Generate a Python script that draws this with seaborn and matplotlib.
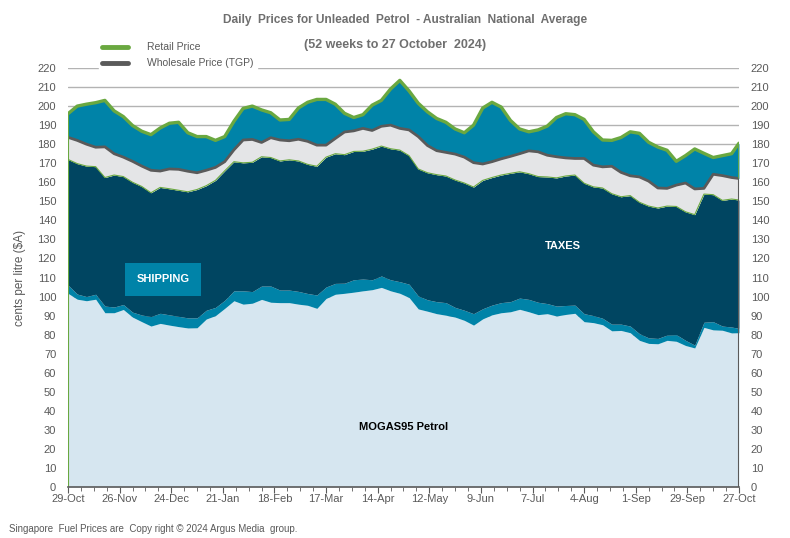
import pandas as pd
import numpy as np
import seaborn as sns
import matplotlib.pyplot as plt
from matplotlib.lines import Line2D
import matplotlib.dates as mdates


# day offsets from 29-Oct-2023 (every 5 days, plus the last day)
day_offsets = list(range(0, 361, 5)) + [364]

retail = [196, 200, 201, 201.8, 203, 197.5, 194.5, 189.8, 186.8, 185,
          188.5, 191, 191.5, 186, 184, 184, 182, 184, 192, 198.8,
          200, 198, 196.5, 192.7, 193, 199, 202, 203.5, 203.5, 201,
          196.2, 194, 195.5, 200.5, 203, 209, 213.5, 208, 201.5, 197,
          193.5, 191.5, 188, 186, 190, 199, 202, 199.5, 192.5, 188,
          186.5, 187.5, 189.5, 194, 196, 195.5, 193, 186.5, 182.2, 182,
          183.5, 186.5, 185.7, 181, 178.5, 176.8, 171, 174, 177.5, 175.2,
          173, 174, 175, 180.5]

wholesale = [183.6, 182, 180, 178.4, 178.6, 175, 173.2, 171, 168.5, 166.3,
             165.9, 167, 166.8, 165.8, 165, 166.3, 167.8, 170.8, 177, 182.2,
             182.5, 180.9, 183.4, 182.2, 181.8, 182.6, 181.5, 179.5, 179.5, 183,
             186.4, 187, 188.3, 187.2, 189.4, 190, 188.3, 187.5, 184, 179.3,
             176.6, 175.7, 174.8, 173.2, 170.3, 169.6, 170.8, 172.3, 173.6, 175,
             176.5, 176, 174.2, 173.4, 172.8, 172.5, 172.5, 169, 168.1, 168.4,
             165.2, 163.4, 162.8, 160.6, 157, 156.8, 158.5, 159.6, 156.5, 156.8,
             164.2, 163.5, 162.5, 162]

taxes_top = [172, 169.8, 168.5, 168.2, 162.5, 163.8, 163, 160, 157.8, 154.5,
             157.3, 156.6, 155.8, 155, 156.2, 158.2, 161, 166, 170.8, 170.2,
             170.5, 173.4, 173, 171.2, 171.8, 171.2, 169.4, 168.4, 173.2, 175,
             174.5, 176.2, 176.3, 177.4, 179, 177.6, 176.9, 174, 167, 165,
             164, 163.3, 161.2, 159.6, 157.5, 161, 162.5, 163.8, 164.7, 165.5,
             164.5, 163, 162.8, 162.3, 163.3, 163.8, 159.5, 157.6, 157, 154,
             152.4, 153, 149.5, 147.5, 146.5, 147.5, 147.3, 144.5, 143, 153.8,
             153.5, 150.5, 151.2, 150.7]

shipping_top = [106, 101.3, 100, 101.2, 95, 94.5, 95.8, 91.8, 90.3, 89.5,
                91.2, 90.4, 89.6, 88.8, 88.8, 92.8, 94.3, 98, 103, 103,
                102.6, 105.5, 105.5, 103.4, 103.4, 102.7, 101.6, 100.8, 105, 106.9,
                107, 108.8, 109.2, 108.8, 110.8, 108.8, 107.8, 106.5, 100.3, 98.3,
                97.3, 96.8, 94.3, 92.8, 91, 93.6, 95.5, 96.8, 97.3, 99.2,
                98.5, 97, 96.3, 95, 95.3, 95.5, 91, 90, 88.6, 85.5,
                85.5, 84.5, 80.5, 78.3, 78, 79.8, 80, 77, 74.5, 86.5,
                86.8, 84.5, 84, 83.3]

mogas = [101.7, 98.6, 97.8, 98.6, 91.5, 91.5, 93.2, 89.2, 86.8, 84.5,
         85.9, 85, 84.2, 83.5, 83.6, 88.2, 90, 93.8, 97.8, 96,
         96.5, 98.5, 97, 96.8, 96.8, 96, 95.4, 93.8, 99, 101.2,
         101.7, 102.3, 103, 103.6, 104.8, 103, 101.7, 99.5, 93.5, 92.3,
         91, 90.2, 89.2, 87.5, 85, 88.3, 90.4, 91.5, 92, 93.3,
         92, 90.5, 91, 89.8, 90.6, 91.2, 86.8, 86.3, 85.2, 82,
         82.2, 81, 77, 75.4, 75.2, 77, 76.5, 74.3, 73, 83.8,
         82.5, 82.3, 80.9, 81]

start = pd.Timestamp('2023-10-29')
end = pd.Timestamp('2024-10-27')

df = pd.DataFrame({
    'date': start + pd.to_timedelta(day_offsets, unit='D'),
    'retail': retail,
    'wholesale': wholesale,
    'taxes': taxes_top,
    'shipping': shipping_top,
    'mogas': mogas,
})

c_mogas = '#d6e6f0'
c_teal = '#0083a8'
c_navy = '#004561'
c_grey = '#e4e5e7'
c_green = '#6aa840'
c_tgp = '#5a5a5a'
c_text = '#595959'

sns.set_style('white')
plt.rcParams['font.family'] = ['Liberation Sans', 'DejaVu Sans']

fig = plt.figure(figsize=(7.9, 5.38), dpi=100)
ax = fig.add_axes([0.0861, 0.0948, 0.8493, 0.7788])

# grid behind everything
ax.set_axisbelow(True)
ax.yaxis.grid(True, color='#b3b3b3', linewidth=1)

d = df['date']
ax.fill_between(d, 0, df['mogas'], color=c_mogas, lw=0)
ax.fill_between(d, df['mogas'], df['shipping'], color=c_teal, lw=0)
ax.fill_between(d, df['shipping'], df['taxes'], color=c_navy, lw=0)
ax.fill_between(d, df['taxes'], df['wholesale'], color=c_grey, lw=0)
ax.fill_between(d, df['wholesale'], df['retail'], color=c_teal, lw=0)

# edges of the areas
ax.plot(d, df['taxes'], color=c_green, lw=0.8)
sns.lineplot(x=d, y=df['wholesale'], color=c_tgp, lw=2, ax=ax)
sns.lineplot(x=d, y=df['retail'], color=c_green, lw=2.4, ax=ax)
ax.vlines(d.iloc[0], 0, df['retail'].iloc[0], color=c_green, lw=1.5)
ax.vlines(d.iloc[-1], 0, df['wholesale'].iloc[-1], color=c_tgp, lw=1.5)
ax.vlines(d.iloc[-1], df['wholesale'].iloc[-1], df['retail'].iloc[-1], color=c_green, lw=2)

ax.set_xlim(start, end)
ax.set_ylim(0, 220)
ax.set_yticks(range(0, 221, 10))
ax.set_xticks(pd.date_range(start, end, freq='28D'))
ax.set_xticks(pd.date_range(start, end, freq='7D'), minor=True)
ax.xaxis.set_major_formatter(mdates.DateFormatter('%-d-%b'))

ax.tick_params(axis='y', labelleft=True, labelright=True, left=False, right=False,
               labelsize=8, labelcolor=c_text, pad=5)
ax.tick_params(axis='x', which='major', bottom=True, direction='out', length=4,
               color=c_tgp, labelsize=8, labelcolor=c_text, pad=1)
ax.tick_params(axis='x', which='minor', bottom=True, direction='out', length=3, color=c_tgp)

for s in ['top', 'left', 'right']:
    ax.spines[s].set_visible(False)
ax.spines['bottom'].set_color(c_tgp)
ax.spines['bottom'].set_linewidth(1.2)

ax.set_xlabel('')
ax.set_ylabel('cents per litre ($A)', color=c_text, fontsize=8.5, labelpad=8)

# labels inside the chart
ax.text(start + pd.Timedelta(days=51.5), 109, 'SHIPPING', color='white', fontsize=8,
        fontweight='bold', ha='center', va='center',
        bbox=dict(facecolor=c_teal, edgecolor='none', boxstyle='square,pad=1.0'))
ax.text(start + pd.Timedelta(days=268.5), 126.5, 'TAXES', color='white', fontsize=8,
        fontweight='bold', ha='center', va='center')
ax.text(start + pd.Timedelta(days=182), 31.5, 'MOGAS95 Petrol', color='black', fontsize=8,
        fontweight='bold', ha='center', va='center')

# titles
fig.text(0.513, 0.963, 'Daily  Prices for Unleaded  Petrol  - Australian  National  Average',
         ha='center', va='center', fontsize=8.6, fontweight='bold', color='#6f6f6f')
fig.text(0.5, 0.916, '(52 weeks to 27 October  2024)',
         ha='center', va='center', fontsize=9, fontweight='bold', color='#6f6f6f')

handles = [Line2D([], [], color=c_green, lw=3.5), Line2D([], [], color=c_tgp, lw=3.5)]
fig.legend(handles, ['Retail Price', 'Wholesale Price (TGP)'], loc='upper left',
           bbox_to_anchor=(0.119, 0.937), fontsize=7.5, frameon=True, facecolor='white',
           edgecolor='white', framealpha=1, handlelength=2.5, handletextpad=1.8,
           labelspacing=0.6, borderpad=0.3, labelcolor=c_text)

fig.text(0.012, 0.008, 'Singapore  Fuel Prices are  Copy right © 2024 Argus Media  group.',
         fontsize=7, color=c_text, ha='left', va='bottom')

fig.savefig('out.png', dpi=100)
